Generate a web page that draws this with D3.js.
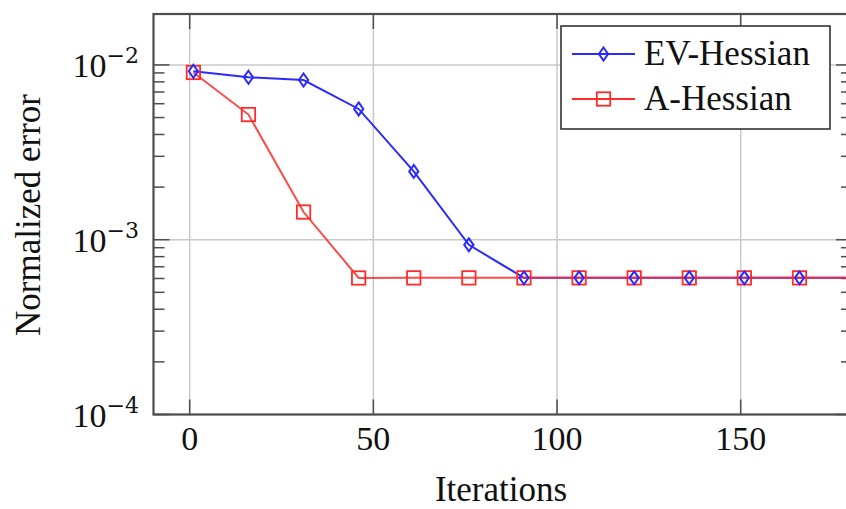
<!DOCTYPE html>
<html><head><meta charset="utf-8">
<script src="https://cdn.jsdelivr.net/npm/d3@7"></script>
<style>body{margin:0;background:#fff}svg{display:block}</style>
</head><body>
<svg id="c" width="846" height="509"></svg>
<script>
const iterations = [1, 16, 31, 46, 61, 76, 91, 106, 121, 136, 151, 166, 181];
const evHessian = [0.0092, 0.0085, 0.0082, 0.0056, 0.00246, 0.000935, 0.000605, 0.000605, 0.000605, 0.000605, 0.000605, 0.000605, 0.000605];
const aHessian  = [0.00905, 0.0052, 0.00144, 0.000604, 0.000605, 0.000605, 0.000605, 0.000605, 0.000605, 0.000605, 0.000605, 0.000605, 0.000605];
const xTicks = [0, 50, 100, 150];
const yTickExps = [-2, -3, -4];
const seriesNames = ["EV-Hessian", "A-Hessian"];

const svg = d3.select("#c");
const L = 153.5, R = 852, T = 14, B = 414.5;
const x = d3.scaleLinear().domain([-9.85, 180.3]).range([L, R]);
const y = d3.scaleLog().domain([1e-4, 0.01956]).range([B, T]);

const grid = "#c9c9c9", axisC = "#4d4d4d";
svg.append("g").selectAll("line").data(xTicks).join("line")
  .attr("x1", d => x(d)).attr("x2", d => x(d)).attr("y1", T).attr("y2", B)
  .attr("stroke", grid).attr("stroke-width", 1.5);
svg.append("g").selectAll("line").data(yTickExps).join("line")
  .attr("x1", L).attr("x2", R).attr("y1", d => y(Math.pow(10, d))).attr("y2", d => y(Math.pow(10, d)))
  .attr("stroke", grid).attr("stroke-width", 1.5);

const minor = [];
[-4, -3, -2].forEach(e => { for (let k = 2; k <= 9; k++) { const v = k * Math.pow(10, e); if (v <= 0.01956) minor.push(v); } });
const tg = svg.append("g").attr("stroke", axisC).attr("stroke-width", 1.5);
minor.forEach(v => {
  tg.append("line").attr("x1", L).attr("x2", L + 11).attr("y1", y(v)).attr("y2", y(v));
  tg.append("line").attr("x1", R).attr("x2", R - 11).attr("y1", y(v)).attr("y2", y(v));
});
yTickExps.forEach(e => {
  const v = Math.pow(10, e);
  tg.append("line").attr("x1", L).attr("x2", L + 16).attr("y1", y(v)).attr("y2", y(v));
  tg.append("line").attr("x1", R).attr("x2", R - 16).attr("y1", y(v)).attr("y2", y(v));
});
xTicks.forEach(d => {
  tg.append("line").attr("x1", x(d)).attr("x2", x(d)).attr("y1", B).attr("y2", B - 15);
  tg.append("line").attr("x1", x(d)).attr("x2", x(d)).attr("y1", T).attr("y2", T + 15);
});

svg.append("rect").attr("x", L).attr("y", T).attr("width", R - L).attr("height", B - T)
  .attr("fill", "none").attr("stroke", axisC).attr("stroke-width", 2.2);

const fontF = "'Liberation Serif', 'DejaVu Serif', serif";
svg.append("g").selectAll("text").data(xTicks).join("text")
  .attr("x", d => x(d)).attr("y", 450).attr("text-anchor", "middle")
  .attr("font-family", fontF).attr("font-size", 34).attr("fill", "#111").text(d => d);
const yl = svg.append("g").selectAll("text").data(yTickExps).join("text")
  .attr("x", 139).attr("y", d => y(Math.pow(10, d)) + 12).attr("text-anchor", "end")
  .attr("font-family", fontF).attr("font-size", 34).attr("fill", "#111");
yl.append("tspan").text("10");
yl.append("tspan").attr("dy", -14).attr("font-size", 22).attr("font-family", "'DejaVu Serif', serif").text(d => "\u2212" + Math.abs(d));

svg.append("text").attr("x", 501).attr("y", 501).attr("text-anchor", "middle")
  .attr("font-family", fontF).attr("font-size", 35).attr("fill", "#111").text("Iterations");
svg.append("text").attr("transform", "translate(40,215) rotate(-90)").attr("text-anchor", "middle")
  .attr("font-family", fontF).attr("font-size", 35).attr("fill", "#111").text("Normalized error");

svg.append("clipPath").attr("id", "clip").append("rect")
  .attr("x", L).attr("y", T - 10).attr("width", R - L).attr("height", B - T + 20);
const plot = svg.append("g").attr("clip-path", "url(#clip)");

const line = d3.line().x(d => x(d[0])).y(d => y(d[1]));
const blueC = "#2a2aff", redC = "#ff2a2a";
const evData = iterations.map((t, i) => [t, evHessian[i]]);
const aData = iterations.map((t, i) => [t, aHessian[i]]);

function diamond(g, cx, cy, color) {
  g.append("path").attr("d", `M${cx},${cy - 6.5}L${cx + 4.6},${cy}L${cx},${cy + 6.5}L${cx - 4.6},${cy}Z`)
    .attr("fill", "none").attr("stroke", color).attr("stroke-width", 2);
}
function square(g, cx, cy, color) {
  g.append("rect").attr("x", cx - 6.7).attr("y", cy - 6.7).attr("width", 13.4).attr("height", 13.4)
    .attr("fill", "none").attr("stroke", color).attr("stroke-width", 1.8);
}

plot.append("path").datum(evData).attr("d", line).attr("fill", "none").attr("stroke", blueC).attr("stroke-width", 2);
plot.append("path").datum(aData).attr("d", line).attr("fill", "none").attr("stroke", redC).attr("stroke-width", 2).attr("stroke-opacity", 0.85);
aData.forEach(d => square(plot, x(d[0]), y(d[1]), redC));
evData.forEach(d => diamond(plot, x(d[0]), y(d[1]), blueC));

const lg = svg.append("g");
lg.append("rect").attr("x", 561).attr("y", 26).attr("width", 269).attr("height", 103)
  .attr("fill", "#fff").attr("stroke", "#333").attr("stroke-width", 1.6);
const legY = [54, 99];
const legC = [blueC, redC];
seriesNames.forEach((n, i) => {
  lg.append("line").attr("x1", 572).attr("x2", 635).attr("y1", legY[i]).attr("y2", legY[i])
    .attr("stroke", legC[i]).attr("stroke-width", 1.8);
  if (i === 0) diamond(lg, 603.5, legY[i], legC[i]); else square(lg, 603.5, legY[i], legC[i]);
  lg.append("text").attr("x", 644).attr("y", legY[i] + 11).attr("font-family", fontF)
    .attr("font-size", 35).attr("fill", "#111").text(n);
});
</script>
</body></html>
